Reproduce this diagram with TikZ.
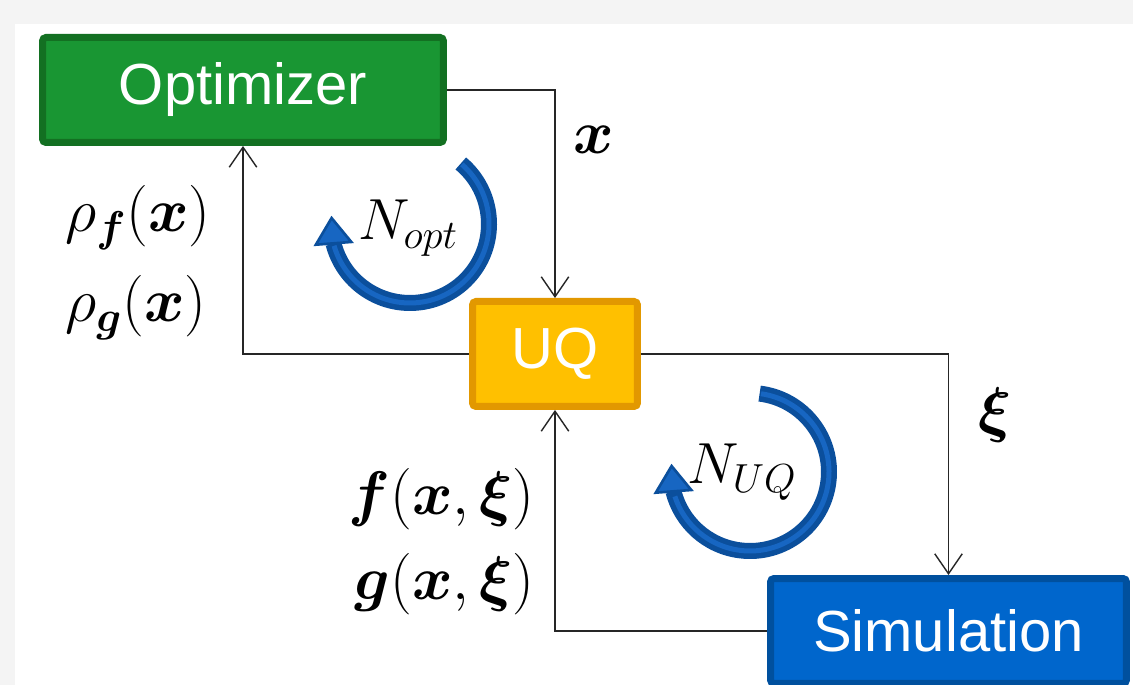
\RequirePackage{fix-cm}
\documentclass[tikz,border=0pt]{standalone}
\usepackage{fontspec}
\setmainfont{Liberation Sans}
\usepackage{amsmath,bm}
\usetikzlibrary{arrows.meta,bending}
\definecolor{optgreen}{HTML}{199633}
\definecolor{optborder}{HTML}{137022}
\definecolor{uqyellow}{HTML}{FFC000}
\definecolor{uqborder}{HTML}{E29800}
\definecolor{simblue}{HTML}{0066CC}
\definecolor{simborder}{HTML}{00509E}
\definecolor{loopblue}{HTML}{0B4F9C}
\definecolor{loopinner}{HTML}{1766C2}
\definecolor{panelgray}{HTML}{F4F4F4}
\tikzstyle{every picture}=[x=0.02cm, y=0.02cm,%
	>={Straight Barb[length=0.4cm,width=0.55cm]}]
\tikzstyle{block}=[draw, rectangle, rounded corners=2pt, line width=0.14cm,%
	outer sep=0.07cm, inner sep=0pt, minimum height=2.1cm, text=white,%
	font=\fontsize{33}{40}\selectfont]
\tikzstyle{flow}=[->, line width=0.8pt, draw=black!85]
\tikzstyle{mathlabel}=[inner sep=0pt, font=\fontsize{35}{42}\selectfont]
\tikzstyle{looplabel}=[inner sep=0pt, font=\fontsize{33}{40}\selectfont]
\tikzstyle{looparrow}=[draw=loopblue, line width=0.32cm,%
	-{Triangle[length=0.58cm, width=0.8cm, line width=1.5pt, fill=loopinner]}]
\tikzstyle{loopstripe}=[draw=loopinner, line width=0.1cm]

\begin{document}
\begin{tikzpicture}
	\fill[panelgray] (0,0) rectangle (1133,685);
	\fill[white] (15,0) rectangle (1133,661);
	\useasboundingbox (0,0) rectangle (1133,685);
	\node[block, fill=optgreen, draw=optborder, minimum width=8.02cm] (opt) at (243,595) {Optimizer};
	\node[block, fill=uqyellow, draw=uqborder, minimum width=3.3cm] (uq) at (555,331) {UQ};
	\node[block, fill=simblue, draw=simborder, minimum width=7.12cm] (sim) at (948.5,54) {Simulation};
	\draw[flow] (opt.east) -| (uq.north);
	\draw[flow] (uq.west) -| (opt.south);
	\draw[flow] (uq.east) -| (sim.north);
	\draw[flow] (sim.west) -| (uq.south);
	\node[mathlabel] (lx) at (594,545) {$\bm{x}$};
	\node[mathlabel] (lxi) at (995,270) {$\bm{\xi}$};
	\node[mathlabel, anchor=base west] (lrhof) at (65,453) {$\rho_{\bm f}(\bm x)$};
	\node[mathlabel, anchor=base west] (lrhog) at (65,363) {$\rho_{\bm g}(\bm x)$};
	\node[mathlabel, anchor=base east] (lf) at (535,170) {$\bm f(\bm x,\bm\xi)$};
	\node[mathlabel, anchor=base east] (lg) at (535,85) {$\bm g(\bm x,\bm\xi)$};
	\coordinate (optloop) at (410,461);
	\coordinate (uqloop) at (750,213);
	\draw[looparrow] (optloop) ++(50:79) arc[start angle=50, end angle=-186, radius=79];
	\draw[loopstripe] (optloop) ++(49:79) arc[start angle=49, end angle=-164, radius=79];
	\draw[looparrow] (uqloop) ++(83:79) arc[start angle=83, end angle=-186, radius=79];
	\draw[loopstripe] (uqloop) ++(82:79) arc[start angle=82, end angle=-162, radius=79];
	\node[looplabel] (nopt) at (408,457) {$N_{opt}$};
	\node[looplabel] (nuq) at (742,213) {$N_{UQ}$};
\end{tikzpicture}
\end{document}
